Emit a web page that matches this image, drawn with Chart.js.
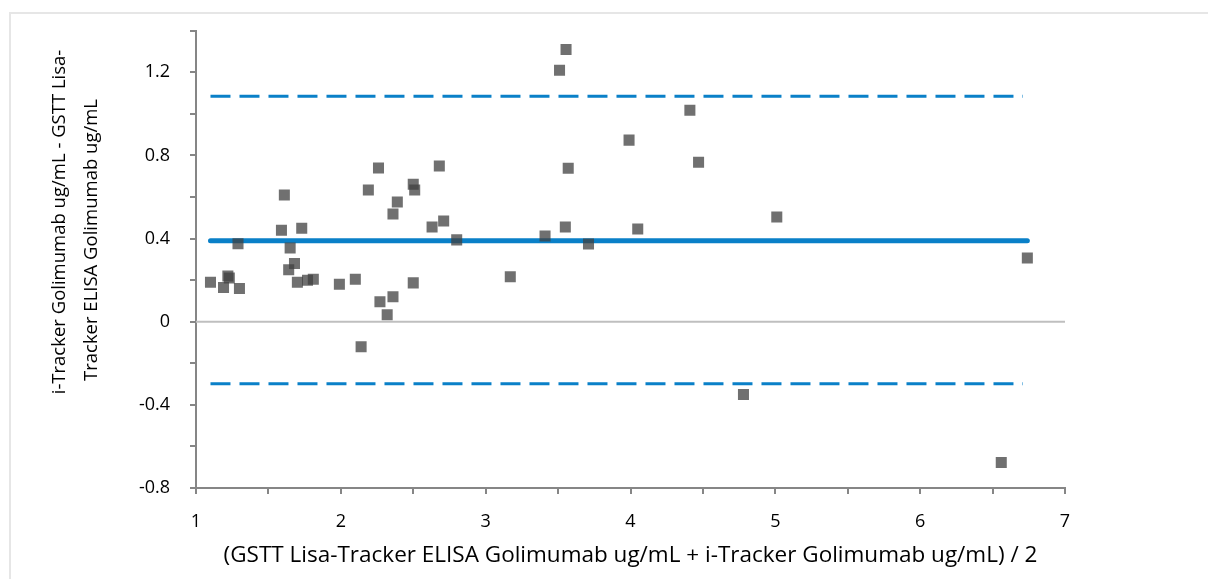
<!DOCTYPE html>
<html>
<head>
<meta charset="utf-8">
<script src="https://cdn.jsdelivr.net/npm/chart.js@4/dist/chart.umd.min.js"></script>
<style>
  html, body { margin: 0; padding: 0; background: #fff; }
  #wrap { position: relative; width: 1208px; height: 579px; }
</style>
</head>
<body>
<div id="wrap"><canvas id="c" width="1208" height="579"></canvas></div>
<script>
// Bland-Altman data: mean of the two methods (x) vs difference (y)
const meanValues = [1.10, 1.19, 1.22, 1.23, 1.29, 1.30, 1.61, 1.59, 1.73, 1.65, 1.68, 1.64, 1.70, 1.77, 1.81, 1.99, 2.10, 2.14, 2.26, 2.19, 2.39, 2.36, 2.50, 2.51, 2.68, 2.63, 2.71, 2.80, 2.50, 2.27, 2.36, 2.32, 3.17, 3.555, 3.51, 4.41, 3.99, 3.57, 4.47, 5.01, 3.55, 3.41, 4.05, 3.71, 6.74, 4.78, 6.56];
const diffValues = [0.19, 0.165, 0.22, 0.21, 0.375, 0.16, 0.61, 0.44, 0.45, 0.355, 0.28, 0.25, 0.19, 0.20, 0.205, 0.18, 0.205, -0.12, 0.74, 0.634, 0.576, 0.518, 0.662, 0.634, 0.749, 0.456, 0.485, 0.394, 0.187, 0.096, 0.12, 0.034, 0.216, 1.31, 1.21, 1.018, 0.874, 0.739, 0.768, 0.504, 0.456, 0.413, 0.446, 0.374, 0.307, -0.35, -0.677];
const lineXRange = [1.10, 6.74];
const limitXRange = [1.10, 6.71];
const meanDiff = 0.39;
const upperLimit = 1.085;
const lowerLimit = -0.298;
const zeroLineX = [1, 7];
const yTickLabels = [-0.8, -0.4, 0, 0.4, 0.8, 1.2];
const xTickLabels = [1, 2, 3, 4, 5, 6, 7];

const xTitle = '(GSTT Lisa-Tracker ELISA Golimumab ug/mL + i-Tracker Golimumab ug/mL) / 2';
const yTitle = ['i-Tracker Golimumab ug/mL - GSTT Lisa-', 'Tracker ELISA Golimumab ug/mL'];

const points = meanValues.map((x, i) => ({ x, y: diffValues[i] }));
const hline = (range, v) => range.map(x => ({ x, y: v }));

const BLUE = '#0a80c8';
const FONT = "'Open Sans', 'Liberation Sans', sans-serif";

const borderPlugin = {
  id: 'outerBorder',
  beforeDraw(chart) {
    const ctx = chart.ctx;
    ctx.save();
    ctx.strokeStyle = '#e6e6e6';
    ctx.lineWidth = 2;
    ctx.strokeRect(10, 13, 1300, 700);
    ctx.restore();
  }
};

// Y-axis title drawn as two rotated text lines placed like the original
const yTitlePlugin = {
  id: 'yTitle',
  afterDraw(chart) {
    const ctx = chart.ctx;
    const pos = [{ x: 60, y: 222 }, { x: 92, y: 240 }];
    ctx.save();
    ctx.fillStyle = '#000';
    ctx.font = "18.5px " + FONT;
    ctx.textAlign = 'center';
    ctx.textBaseline = 'middle';
    yTitle.forEach((line, i) => {
      ctx.save();
      ctx.translate(pos[i].x, pos[i].y);
      ctx.rotate(-Math.PI / 2);
      ctx.fillText(line, 0, 0);
      ctx.restore();
    });
    ctx.restore();
  }
};

function isLabeled(list, v) {
  return list.some(t => Math.abs(t - v) < 1e-6);
}

new Chart(document.getElementById('c'), {
  type: 'scatter',
  data: {
    datasets: [
      {
        label: 'zero',
        data: zeroLineX.map(x => ({ x, y: 0 })),
        showLine: true,
        borderColor: '#bfbfbf',
        borderWidth: 2,
        pointRadius: 0,
        order: 5
      },
      {
        label: 'Upper limit',
        data: hline(limitXRange, upperLimit),
        showLine: true,
        borderColor: BLUE,
        borderWidth: 3,
        borderDash: [20, 9],
        pointRadius: 0,
        order: 3
      },
      {
        label: 'Lower limit',
        data: hline(limitXRange, lowerLimit),
        showLine: true,
        borderColor: BLUE,
        borderWidth: 3,
        borderDash: [20, 9],
        pointRadius: 0,
        order: 3
      },
      {
        label: 'Mean',
        data: hline(lineXRange, meanDiff),
        showLine: true,
        borderColor: BLUE,
        borderWidth: 5,
        borderCapStyle: 'round',
        pointRadius: 0,
        order: 2
      },
      {
        label: 'Differences',
        data: points,
        pointStyle: 'rect',
        pointRadius: 7.8,
        pointBorderWidth: 0,
        backgroundColor: 'rgba(64,64,64,0.75)',
        borderColor: 'rgba(0,0,0,0)',
        order: 1
      }
    ]
  },
  options: {
    responsive: false,
    animation: false,
    events: [],
    layout: { padding: { left: 0, top: 29, right: 143, bottom: 0 } },
    plugins: {
      legend: { display: false },
      tooltip: { enabled: false }
    },
    scales: {
      x: {
        type: 'linear',
        min: 1, max: 7,
        border: { display: true, color: '#868686', width: 2 },
        grid: { drawOnChartArea: false, drawTicks: true, tickLength: 6, color: '#868686', lineWidth: 2 },
        ticks: {
          stepSize: 0.5,
          autoSkip: false,
          maxRotation: 0,
          color: '#000',
          padding: 17,
          font: { family: FONT, size: 18 },
          callback: (v) => isLabeled(xTickLabels, v) ? String(Math.round(v)) : ''
        },
        title: {
          display: true,
          text: xTitle,
          color: '#000',
          font: { family: FONT, size: 22.5 },
          padding: { top: 4, bottom: 10 }
        },
        afterFit(scale) { scale.height = 91; }
      },
      y: {
        type: 'linear',
        min: -0.8, max: 1.4,
        border: { display: true, color: '#868686', width: 2 },
        grid: { drawOnChartArea: false, drawTicks: true, tickLength: 6, color: '#868686', lineWidth: 2 },
        ticks: {
          stepSize: 0.2,
          autoSkip: false,
          color: '#000',
          padding: 20,
          font: { family: FONT, size: 18 },
          callback: (v) => isLabeled(yTickLabels, v) ? String(Math.round(v * 10) / 10) : ''
        },
        title: { display: false },
        afterFit(scale) { scale.width = 196; }
      }
    }
  },
  plugins: [borderPlugin, yTitlePlugin]
});
</script>
</body>
</html>
